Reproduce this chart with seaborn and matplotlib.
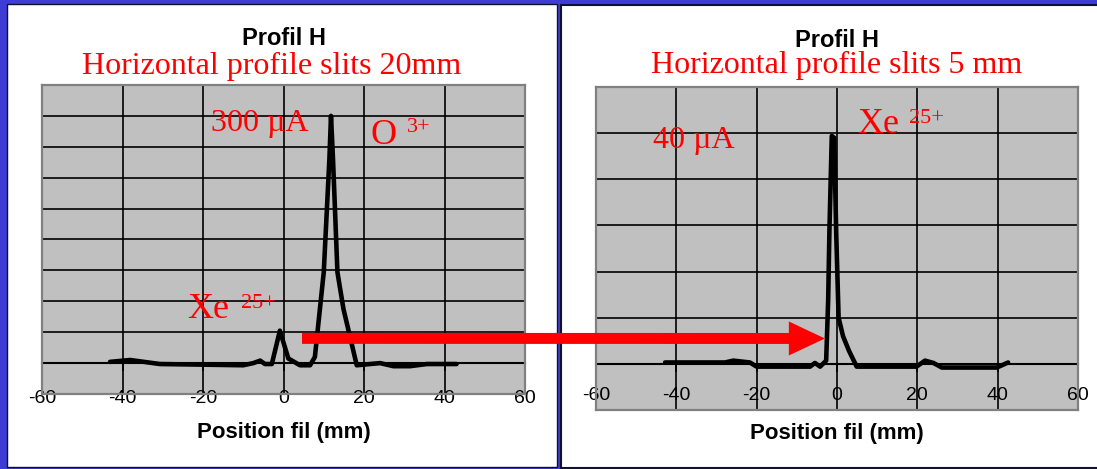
import matplotlib
matplotlib.use("Agg")
import matplotlib.pyplot as plt
from matplotlib.patches import Rectangle, ConnectionPatch
import seaborn as sns

# profil horizontal, fentes 20 mm (unites arbitraires, pas d'axe y gradue)
pos_20mm = [-43.1, -38.1, -30.7, -20.0, -10.0, -7.5, -5.8, -4.6, -2.9, -0.9,
            1.2, 4.1, 6.6, 7.8, 10.0, 11.4, 11.8, 12.3, 13.4, 14.9,
            18.2, 24.0, 27.3, 31.4, 35.6, 43.0]
sig_20mm = [0.04, 0.10, -0.03, -0.05, -0.07, 0.0, 0.08, -0.03, -0.03, 1.05,
            0.15, -0.07, -0.07, 0.2, 2.94, 6.6, 8.0, 6.6, 2.94, 1.75,
            -0.07, 0.0, -0.1, -0.1, -0.03, -0.03]

# profil horizontal, fentes 5 mm
pos_5mm = [-42.8, -27.9, -25.8, -21.7, -20.0, -6.7, -5.5, -4.2, -2.7, -2.2,
           -1.9, -1.3, -0.7, -0.2, 0.4, 1.5, 3.0, 4.9, 19.8, 21.9,
           24.0, 26.1, 39.8, 42.6]
sig_5mm = [0.03, 0.03, 0.07, 0.03, -0.06, -0.06, 0.02, -0.06, 0.07, 1.37,
           2.84, 4.94, 4.9, 2.84, 1.0, 0.6, 0.28, -0.06, -0.06, 0.07,
           0.02, -0.08, -0.08, 0.03]

x_ticks = [-60, -40, -20, 0, 20, 40, 60]
titles = ["Horizontal profile slits 20mm", "Horizontal profile slits 5 mm"]
currents = ["300 µA", "40 µA"]
n_grid = [9, 6]  # nombre d'intervalles au-dessus de zero

sns.set_theme(style="whitegrid")
plt.rcParams["font.family"] = ["Liberation Sans", "DejaVu Sans"]
plt.rcParams["axes.unicode_minus"] = False
plt.rcParams["text.color"] = "black"
plt.rcParams["axes.labelcolor"] = "black"
serif = ["Liberation Serif", "DejaVu Serif"]

W, H = 1097, 469
fig = plt.figure(figsize=(W / 100, H / 100), dpi=100, facecolor="#3d3dd6")

# cadres blancs (sous les axes)
fig.patches.append(Rectangle((7 / W, 2 / H), 550 / W, 463 / H, transform=fig.transFigure,
                             facecolor="white", edgecolor="#101030", lw=1, zorder=-5))
fig.patches.append(Rectangle((561 / W, 1 / H), 540 / W, 463 / H, transform=fig.transFigure,
                             facecolor="white", edgecolor="#101030", lw=1.5, zorder=-5))

ax1 = fig.add_axes([42 / W, 75 / H, 483 / W, 309 / H])
ax2 = fig.add_axes([596 / W, 59 / H, 482 / W, 323 / H])

setup = [
    (ax1, pos_20mm, sig_20mm, -3.0, -0.123, 1.129, 0.476, 1.0356),
    (ax2, pos_5mm, sig_5mm, -16.3, -0.074, 1.124, 0.5, 1.043),
]
for i, (ax, x, y, pad, lab_y, t1_y, t2_x, t2_y) in enumerate(setup):
    top = n_grid[i]
    ax.set_facecolor("#c0c0c0")
    ax.set_xlim(-60, 60)
    ax.set_ylim(-1, top)
    ax.set_xticks(x_ticks)
    ax.set_yticks(range(0, top))
    ax.grid(True, color="black", linewidth=1.2)
    ax.tick_params(axis="y", left=False, labelleft=False)
    ax.tick_params(axis="x", bottom=False, length=0, pad=pad, labelsize=14,
                   labelcolor="black")
    for s in ax.spines.values():
        s.set_color("#808080")
        s.set_linewidth(1.6)

    # axe des x a zero avec graduations
    sec = ax.secondary_xaxis(1 / (top + 1))
    sec.set_xticks(x_ticks)
    sec.tick_params(axis="x", direction="out", length=5.8, width=1.2, color="black",
                    labelbottom=False)
    sec.spines["bottom"].set_color("black")
    sec.spines["bottom"].set_linewidth(1.5)

    sns.lineplot(x=x, y=y, ax=ax, color="black", linewidth=3.3, estimator=None, sort=False)

    ax.set_xlabel("Position fil (mm)", fontsize=16, fontweight="bold", va="center",
                  color="black")
    ax.xaxis.set_label_coords(0.5, lab_y)
    ax.set_ylabel("")
    ax.text(0.5, t1_y, "Profil H", transform=ax.transAxes, ha="center", va="baseline",
            fontsize=17, fontweight="bold", color="black")
    ax.text(t2_x, t2_y, titles[i], transform=ax.transAxes, ha="center", va="baseline",
            fontsize=23, color="red", family=serif)

red = dict(color="red", family=serif, va="baseline")
ax1.text(-18.0, 7.5, currents[0], fontsize=23, **red)
ax1.text(21.5, 7.09, "O", fontsize=26, **red)
ax1.text(30.7, 7.48, "3+", fontsize=16, **red)
ax1.text(-23.9, 1.46, "Xe", fontsize=26, **red)
ax1.text(-10.6, 1.79, "25+", fontsize=16, **red)
ax2.text(-45.7, 4.67, currents[1], fontsize=23, **red)
ax2.text(5.0, 5.0, "Xe", fontsize=26, **red)
ax2.text(17.9, 5.22, "25+", fontsize=16, **red)

# fleche rouge d'un profil a l'autre
arrow = ConnectionPatch(xyA=(4.6, 0.80), coordsA=ax1.transData,
                        xyB=(-3.0, 0.55), coordsB=ax2.transData,
                        arrowstyle="simple,head_length=26,head_width=24.5,tail_width=7.9",
                        mutation_scale=1, color="red", lw=0, shrinkA=0, shrinkB=0,
                        zorder=10)
fig.add_artist(arrow)

fig.savefig("out.png", dpi=100, facecolor=fig.get_facecolor())
